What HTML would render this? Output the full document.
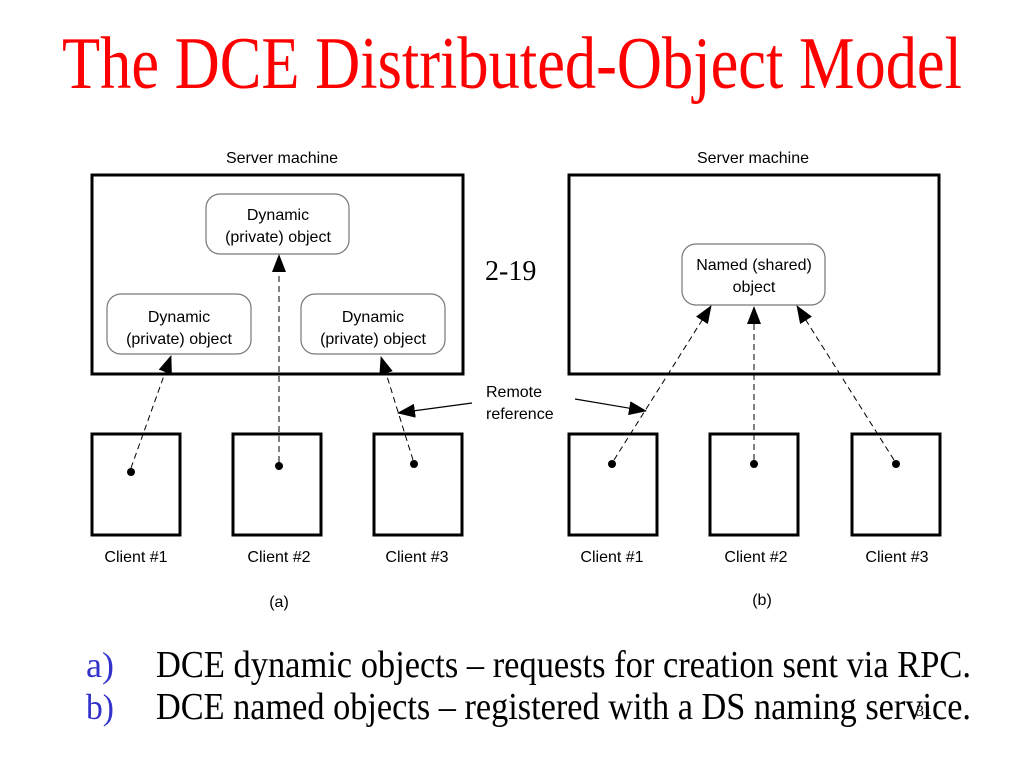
<!DOCTYPE html>
<html><head><meta charset="utf-8"><style>
html,body{margin:0;padding:0;background:#fff;}
svg{display:block;}
.s{font-family:"Liberation Sans",Arial,sans-serif;font-size:16px;fill:#000;}
.r{font-family:"Liberation Serif","Times New Roman",serif;}
</style></head><body>
<svg width="1024" height="768" viewBox="0 0 1024 768" xmlns="http://www.w3.org/2000/svg">
<defs>
<marker id="b" markerWidth="18" markerHeight="14" refX="17" refY="7" orient="auto" markerUnits="userSpaceOnUse">
<path d="M0,0 L18,7 L0,14 z" fill="#000"/></marker>
</defs>
<text x="62" y="88" class="r" font-size="74" fill="#ff0000" textLength="900" lengthAdjust="spacingAndGlyphs">The DCE Distributed-Object Model</text>

<text x="282" y="163" class="s" text-anchor="middle">Server machine</text>
<text x="753" y="163" class="s" text-anchor="middle">Server machine</text>

<rect x="92" y="175" width="371" height="199" fill="none" stroke="#000" stroke-width="3"/>
<rect x="569" y="175" width="370" height="199" fill="none" stroke="#000" stroke-width="3"/>

<g fill="#fff" stroke="#777" stroke-width="1.2">
<rect x="206" y="194" width="143" height="60" rx="14"/>
<rect x="107" y="294" width="144" height="60" rx="14"/>
<rect x="301" y="294" width="144" height="60" rx="14"/>
<rect x="682" y="244" width="143" height="61" rx="14"/>
</g>
<g class="s" text-anchor="middle">
<text x="278" y="220">Dynamic</text><text x="278" y="242">(private) object</text>
<text x="179" y="322">Dynamic</text><text x="179" y="344">(private) object</text>
<text x="373" y="322">Dynamic</text><text x="373" y="344">(private) object</text>
<text x="754" y="270">Named (shared)</text><text x="754" y="292">object</text>
</g>

<text x="485" y="280" class="r" font-size="28">2-19</text>

<g fill="none" stroke="#000" stroke-width="3">
<rect x="92" y="434" width="88" height="101"/>
<rect x="233" y="434" width="88" height="101"/>
<rect x="374" y="434" width="88" height="101"/>
<rect x="569" y="434" width="88" height="101"/>
<rect x="710" y="434" width="88" height="101"/>
<rect x="852" y="434" width="88" height="101"/>
</g>
<g fill="#000">
<circle cx="131" cy="472" r="4"/><circle cx="279" cy="466" r="4"/><circle cx="414" cy="464" r="4"/>
<circle cx="612" cy="464" r="4"/><circle cx="754" cy="464" r="4"/><circle cx="896" cy="464" r="4"/>
</g>
<g stroke="#000" stroke-width="1" stroke-dasharray="6,4" fill="none">
<line x1="131" y1="468" x2="171" y2="356" marker-end="url(#b)"/>
<line x1="279" y1="462" x2="279" y2="255" marker-end="url(#b)"/>
<line x1="413" y1="460" x2="381" y2="357" marker-end="url(#b)"/>
<line x1="614" y1="460" x2="711" y2="306" marker-end="url(#b)"/>
<line x1="754" y1="460" x2="754" y2="307" marker-end="url(#b)"/>
<line x1="894" y1="460" x2="797" y2="306" marker-end="url(#b)"/>
</g>
<g stroke="#000" stroke-width="1.2">
<line x1="472" y1="403" x2="398" y2="413" marker-end="url(#b)"/>
<line x1="575" y1="399" x2="646" y2="411" marker-end="url(#b)"/>
</g>
<text x="486" y="397" class="s">Remote</text>
<text x="486" y="419" class="s">reference</text>

<g class="s" text-anchor="middle">
<text x="136" y="562">Client #1</text><text x="279" y="562">Client #2</text><text x="417" y="562">Client #3</text>
<text x="612" y="562">Client #1</text><text x="756" y="562">Client #2</text><text x="897" y="562">Client #3</text>
<text x="279" y="607">(a)</text><text x="762" y="605">(b)</text>
</g>

<text x="86" y="677" class="r" font-size="36" fill="#3333cc" textLength="28" lengthAdjust="spacingAndGlyphs">a)</text>
<text x="86" y="719" class="r" font-size="36" fill="#3333cc" textLength="28" lengthAdjust="spacingAndGlyphs">b)</text>
<text x="156" y="677" class="r" font-size="38" textLength="815" lengthAdjust="spacingAndGlyphs">DCE dynamic objects – requests for creation sent via RPC.</text>
<text x="156" y="719" class="r" font-size="38" textLength="815" lengthAdjust="spacingAndGlyphs">DCE named objects – registered with a DS naming service.</text>
<text x="916" y="716" class="r" font-size="16">31</text>
</svg>
</body></html>
